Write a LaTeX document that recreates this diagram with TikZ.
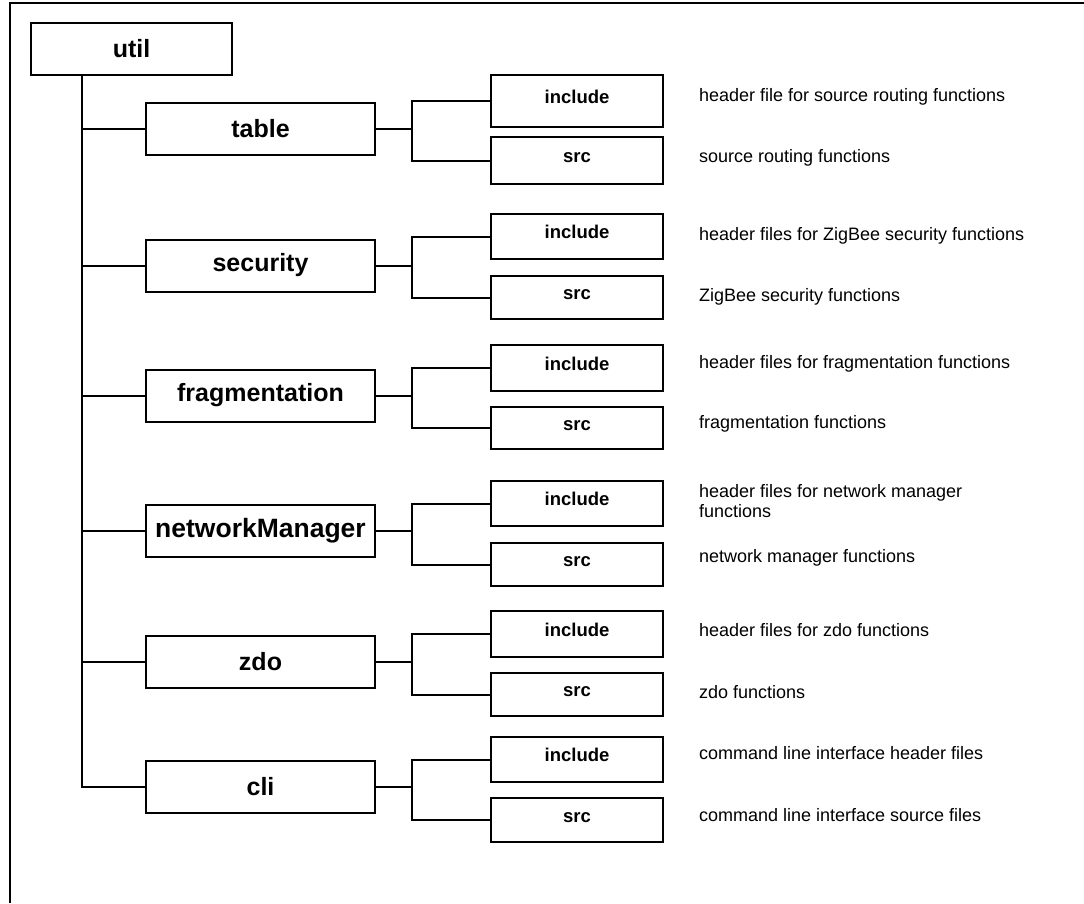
\documentclass[tikz,border=0pt]{standalone}
\usepackage{fontspec}
\setmainfont{Liberation Sans}
\begin{document}
\begin{tikzpicture}[x=1pt,y=-1pt,line width=2pt,
  rootbox/.style={draw,rectangle,inner sep=0pt,font=\bfseries\fontsize{25}{28}\selectfont,minimum width=201pt,minimum height=52pt},
  dirbox/.style={draw,rectangle,inner sep=0pt,font=\bfseries\fontsize{25}{28}\selectfont,minimum width=229pt,minimum height=52pt},
  leafbox/.style={draw,rectangle,inner sep=0pt,font=\bfseries\fontsize{18.5}{20}\selectfont,minimum width=172pt,minimum height=45pt,text height=14pt,text depth=10pt},
  note/.style={anchor=west,inner sep=0pt,font=\fontsize{18}{20.5}\selectfont,align=left},
  link/.style={line width=2pt}]
\useasboundingbox (0,0) rectangle (1084,903);

% outer frame (top and left edges only)
\draw (1084,3) -- (10,3) -- (10,903);

% root
\node[rootbox] (util) at (131.5,49) {util};

% first level directories
\node[dirbox] (table) at (260.5,129) {table};
\node[dirbox] (security) at (260.5,265.5) {security};
\node[dirbox] (frag) at (260.5,395.5) {fragmentation};
\node[dirbox,font=\bfseries\fontsize{26.5}{28}\selectfont] (nm) at (260.5,531) {networkManager};
\node[dirbox] (zdo) at (260.5,662) {zdo};
\node[dirbox] (cli) at (260.5,787) {cli};

% include / src leaves
\node[leafbox,minimum height=52pt] (tinc) at (577,101) {include};
\node[leafbox,minimum height=47pt] (tsrc) at (577,160.5) {src};
\node[leafbox] (sinc) at (577,236.5) {include};
\node[leafbox,minimum height=43pt] (ssrc) at (577,297.5) {src};
\node[leafbox,minimum height=46pt] (finc) at (577,368) {include};
\node[leafbox,minimum height=42pt] (fsrc) at (577,428) {src};
\node[leafbox] (ninc) at (577,503.5) {include};
\node[leafbox,minimum height=43pt] (nsrc) at (577,564.5) {src};
\node[leafbox,minimum height=46pt] (zinc) at (577,634) {include};
\node[leafbox,minimum height=43pt] (zsrc) at (577,694.5) {src};
\node[leafbox] (cinc) at (577,759.5) {include};
\node[leafbox,minimum height=44pt] (csrc) at (577,820) {src};

% descriptions
\node[note] (tincd) at (698,97) {header file for source routing functions};
\node[note] (tsrcd) at (698,158) {source routing functions};
\node[note] (sincd) at (698,236) {header files for ZigBee security functions};
\node[note] (ssrcd) at (698,297) {ZigBee security functions};
\node[note] (fincd) at (698,364) {header files for fragmentation functions};
\node[note] (fsrcd) at (698,424) {fragmentation functions};
\node[note] (nincd) at (698,501) {header files for network manager\\functions};
\node[note] (nsrcd) at (698,558) {network manager functions};
\node[note] (zincd) at (698,630) {header files for zdo functions};
\node[note] (zsrcd) at (698,692) {zdo functions};
\node[note] (cincd) at (698,753) {command line interface header files};
\node[note] (csrcd) at (698,815) {command line interface source files};

% trunk from util to each directory
\coordinate (trunk) at (82,75);
\draw[link] (trunk) |- (cli.west);
\foreach \d in {table,security,frag,nm,zdo}
  \draw[link] (trunk |- \d.west) -- (\d.west);

% branches from each directory to its include and src
\coordinate (br) at (412,0);
\foreach \d/\i/\s in {table/tinc/tsrc,security/sinc/ssrc,frag/finc/fsrc,nm/ninc/nsrc,zdo/zinc/zsrc,cli/cinc/csrc}{
  \draw[link] (\d.east) -- (br |- \d.east);
  \draw[link] (\i.west) -| (br |- \d.east) |- (\s.west);
}
\end{tikzpicture}
\end{document}
